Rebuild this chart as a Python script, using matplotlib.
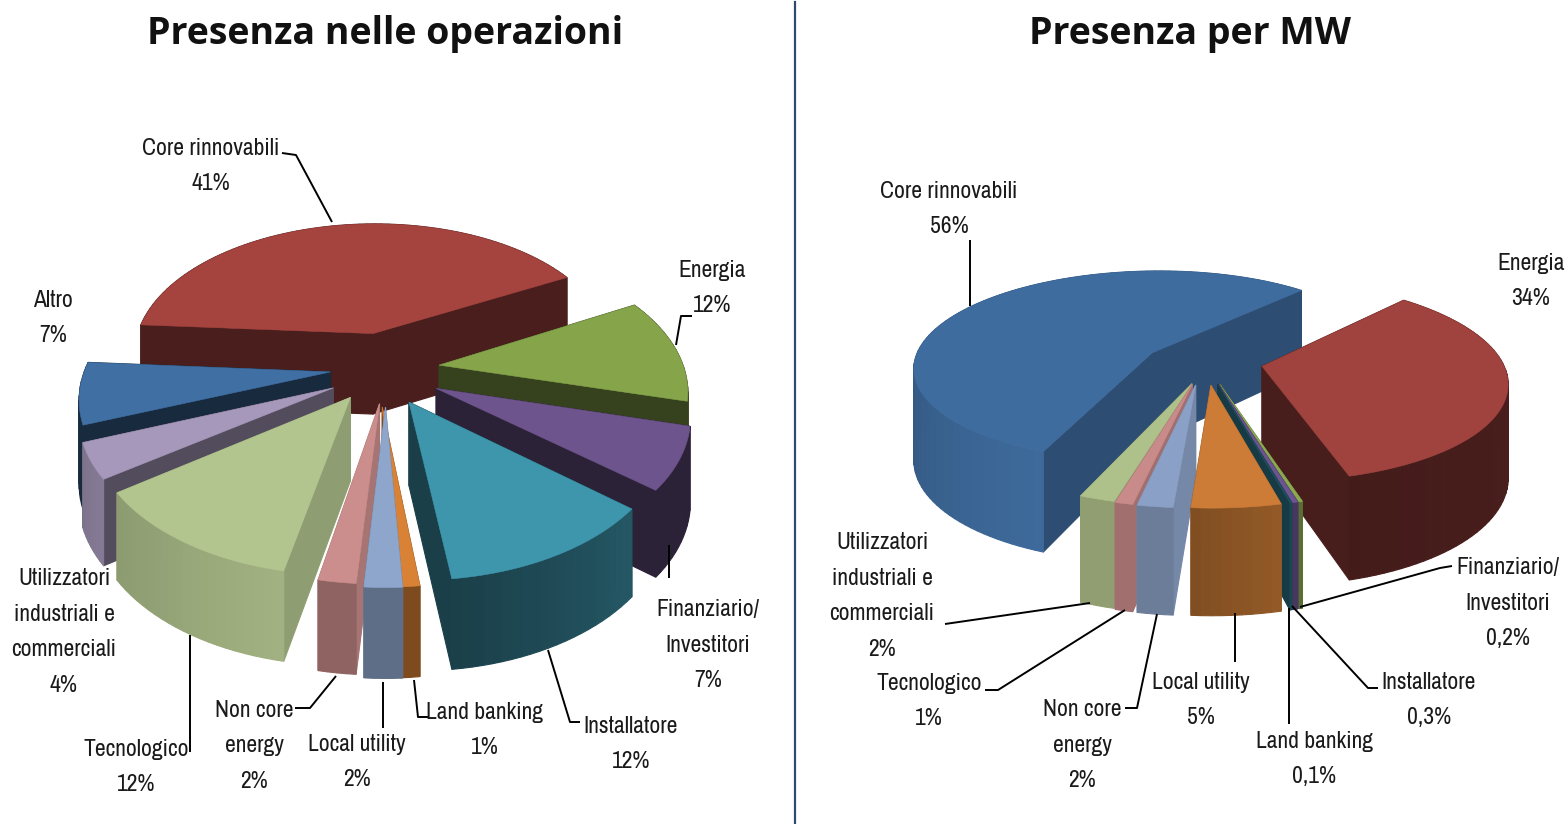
import numpy as np
import matplotlib
matplotlib.use("Agg")
import matplotlib.pyplot as plt
from matplotlib.patches import Polygon

NARROW = ["Archivo Narrow", "Asap Condensed", "Liberation Sans"]

# ---------- data ----------
left_names = ["Core rinnovabili", "Energia", "Finanziario/Investitori", "Installatore", "Land banking",
              "Local utility", "Non core energy", "Tecnologico", "Utilizzatori industriali e commerciali", "Altro"]
left_values = [41, 12, 7, 12, 1, 2, 2, 12, 4, 7]
left_colors = ["#A5433F", "#86A44A", "#6E548D", "#3E96AD", "#D98236", "#8FA6CC", "#CB8E8C", "#B3C58F", "#A698BA", "#3F6FA3"]
left_radial = [.45, .40, .40, .42, .60, .75, .82, .80, .50, .38]
left_rim_a = [.45, .40, .40, .58, .58, .66, .70, .90, .80, .38]
left_rim_b = [.45, .40, .40, .42, .58, .66, .70, .78, .75, .38]
left_explode = [.26, .24, .24, .28, .28, .28, .28, .28, .24, .24]
left_nudge = [(0, 0), (-5, 2), (-3, 6), (-11, 0), (-10, 0), (0, 0), (3, -3), (3, -3), (0, 5), (3, 0)]

right_names = ["Core rinnovabili", "Energia", "Finanziario/Investitori", "Installatore", "Land banking",
               "Local utility", "Non core energy", "Tecnologico", "Utilizzatori industriali e commerciali"]
right_values = [56, 34, 0.2, 0.3, 0.1, 5, 2, 1, 2]
right_colors = ["#3F6C9E", "#A0423E", "#8CAA50", "#6B5490", "#1F4E5C", "#CC7C36", "#8BA0C6", "#C98B8A", "#AFC18A"]
right_radial = [.72, .45, .65, .65, .75, .70, .85, .80, .82]
right_rim_a = [.98, .47, .65, .65, .90, .72, .78, .80, .82]
right_rim_b = [.78, .42, .65, .65, .90, .62, .78, .80, .82]
right_explode = [.28] * 9
right_nudge = [(3, 10), (-9, 3), (-4, 0), (-4, 0), (-4, 0), (0, 0), (0, 0), (3, 0), (9, 0)]

titles = ["Presenza nelle operazioni", "Presenza per MW"]

left_labels = [
    ("Core rinnovabili\n41%", 211, 166), ("Energia\n12%", 712, 288), ("Altro\n7%", 53, 318),
    ("Finanziario/\nInvestitori\n7%", 708, 645), ("Installatore\n12%", 631, 744), ("Land banking\n1%", 485, 730),
    ("Local utility\n2%", 357, 762), ("Non core\nenergy\n2%", 254, 746), ("Tecnologico\n12%", 136, 767),
    ("Utilizzatori\nindustriali e\ncommerciali\n4%", 64, 632)]
right_labels = [
    ("Core rinnovabili\n56%", 949, 209), ("Energia\n34%", 1531, 281), ("Finanziario/\nInvestitori\n0,2%", 1508, 603),
    ("Installatore\n0,3%", 1429, 700), ("Land banking\n0,1%", 1314, 759), ("Local utility\n5%", 1201, 700),
    ("Non core\nenergy\n2%", 1082, 745), ("Tecnologico\n1%", 929, 701),
    ("Utilizzatori\nindustriali e\ncommerciali\n2%", 882, 596)]
left_leaders = [[(282, 153), (296, 155), (332, 222)], [(692, 316), (681, 316), (676, 345)], [(669, 545), (669, 578)],
                [(548, 650), (570, 722), (580, 722)], [(414, 680), (418, 717), (428, 717)], [(383, 682), (383, 728)],
                [(336, 676), (310, 708), (295, 708)], [(190, 635), (190, 752)]]
right_leaders = [[(970, 240), (970, 306)], [(1300, 607), (1440, 568), (1452, 566)], [(1292, 606), (1368, 688), (1378, 688)],
                 [(1289, 608), (1289, 724)], [(1235, 613), (1235, 662)], [(1157, 614), (1137, 708), (1125, 708)],
                 [(1125, 610), (998, 690), (985, 690)], [(1090, 603), (945, 624)]]


def draw_pie(ax, values, colors, radial, rim_a, rim_b, explode, nudge, start, cx, cy, A, B, k, D, expo):
    values = np.asarray(values, float)
    spans = values / values.sum() * 360.0
    a0 = start - np.concatenate([[0], np.cumsum(spans)[:-1]])
    a1 = a0 - spans
    mids = (a0 + a1) / 2

    def proj(wx, wy):
        s = 1 / (1 + k * wy)
        return cx + A * wx * s, cy - B * wy * s, D * s ** expo

    order = np.argsort(-np.sin(np.radians(mids)))
    for i in order:
        col = np.array(matplotlib.colors.to_rgb(colors[i]))
        e = explode[i]
        ox, oy = e * np.cos(np.radians(mids[i])), e * np.sin(np.radians(mids[i]))
        n = max(3, int(spans[i] / 2) + 2)
        th = np.linspace(a0[i], a1[i], n)
        wx = ox + np.cos(np.radians(th))
        wy = oy + np.sin(np.radians(th))
        X, Y, Z = proj(wx, wy)
        ax_, ay_, az_ = proj(np.array([ox]), np.array([oy]))
        dx, dy = nudge[i]
        X, Y, ax_, ay_ = X + dx, Y + dy, ax_ + dx, ay_ + dy
        faces = []
        for j in (0, -1):
            q = [(ax_[0], ay_[0]), (X[j], Y[j]), (X[j], Y[j] + Z[j]), (ax_[0], ay_[0] + az_[0])]
            faces.append(((wy[j] + oy) / 2, q, radial[i]))
        vis = np.sin(np.radians(th)) < 0.15
        tv = th[vis]
        for j in range(n - 1):
            q = [(X[j], Y[j]), (X[j + 1], Y[j + 1]), (X[j + 1], Y[j + 1] + Z[j + 1]), (X[j], Y[j] + Z[j])]
            t = np.clip((tv[0] - th[j]) / max(tv[0] - tv[-1], 1e-6), 0, 1) if len(tv) > 1 else 0
            faces.append(((wy[j] + wy[j + 1]) / 2, q, rim_a[i] + (rim_b[i] - rim_a[i]) * t))
        faces.sort(key=lambda f: -f[0])
        for _, q, sh in faces:
            c = tuple(col * sh)
            ax.add_patch(Polygon(q, closed=True, fc=c, ec=c, lw=0.8, zorder=2))
        top = np.column_stack([np.r_[ax_, X], np.r_[ay_, Y]])
        ax.add_patch(Polygon(top, closed=True, fc=colors[i], ec=colors[i], lw=0.4, zorder=2))


fig = plt.figure(figsize=(15.67, 8.24), dpi=100)
ax = fig.add_axes([0, 0, 1, 1])
ax.set_xlim(0, 1567)
ax.set_ylim(824, 0)
ax.axis("off")

draw_pie(ax, left_values, left_colors, left_radial, left_rim_a, left_rim_b, left_explode, left_nudge,
         start=176, cx=386, cy=367, A=245, B=137, k=0.16, D=82, expo=0.45)
draw_pie(ax, right_values, right_colors, right_radial, right_rim_a, right_rim_b, right_explode, right_nudge,
         start=248, cx=1205, cy=357, A=240, B=97, k=0.14, D=91, expo=0.85)

ax.plot([795, 795], [2, 824], color="#2F4A6E", lw=1.6, zorder=1)
ax.text(385, 34, titles[0], ha="center", va="center", fontsize=27, fontweight="bold", family="Open Sans", color="#111111")
ax.text(1190, 34, titles[1], ha="center", va="center", fontsize=27, fontweight="bold", family="Open Sans", color="#111111")

for labs in (left_labels, right_labels):
    for t, x, y in labs:
        ax.text(x, y, t, ha="center", va="center", fontsize=17, family=NARROW, linespacing=1.88, color="#1a1a1a", zorder=4)
for ls in (left_leaders, right_leaders):
    for l in ls:
        xs, ys = zip(*l)
        ax.plot(xs, ys, color="black", lw=1.4, zorder=3, solid_capstyle="butt")

fig.savefig("out.png", dpi=100, facecolor="white")
